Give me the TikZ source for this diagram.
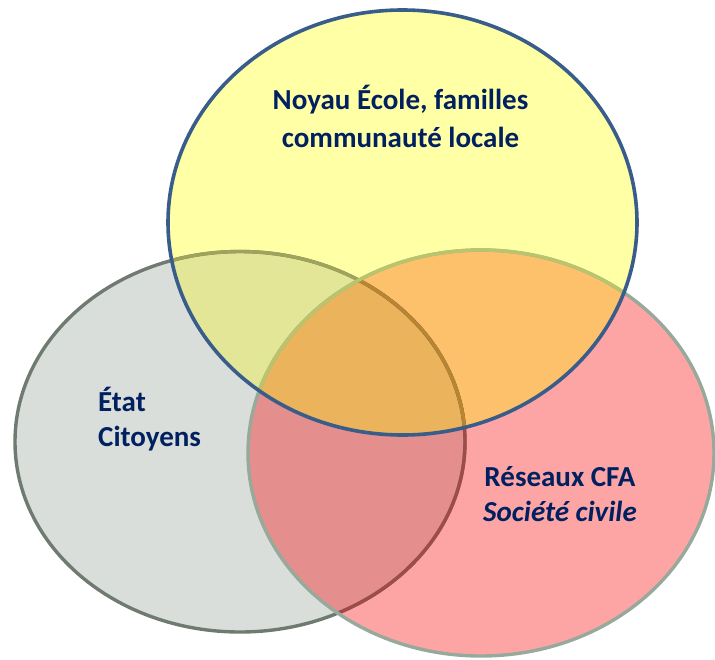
\documentclass[tikz,border=0pt]{standalone}
\usepackage{fontspec}
\setmainfont{Carlito}
\begin{document}
\begin{tikzpicture}[x=1pt,y=-1pt,
  lbl/.style={font=\fontsize{29}{33}\selectfont\bfseries, text=txtblue, inner sep=0pt},
  bord/.style={line width=3.4pt}]
\definecolor{txtblue}{HTML}{002060}
\definecolor{cG}{HTML}{D9DEDA}
\definecolor{cP}{HTML}{FDA5A5}
\definecolor{cY}{HTML}{FFFFA5}
\definecolor{cGY}{HTML}{E3E697}
\definecolor{cPY}{HTML}{FDC16B}
\definecolor{cGP}{HTML}{E48E8E}
\definecolor{cGPY}{HTML}{EBB35B}
\definecolor{bG}{HTML}{6F7A70}
\definecolor{bGP}{HTML}{A04B4B}
\definecolor{bGY}{HTML}{A0A35A}
\definecolor{bGPY}{HTML}{B8862F}
\definecolor{bP}{HTML}{97A99B}
\definecolor{bPY}{HTML}{B9C46B}
\definecolor{bY}{HTML}{385D8A}
\useasboundingbox (0,0) rectangle (715,659);
\def\pathG{(240,441.75) ellipse [x radius=225, y radius=190.25]}
\def\pathP{(481,453) ellipse [x radius=233, y radius=203]}
\def\pathY{(402.5,222.5) ellipse [x radius=234.5, y radius=212.5]}
% fills
\fill[cG] \pathG;
\fill[cP] \pathP;
\fill[cY] \pathY;
\begin{scope}\clip \pathG; \fill[cGY] \pathY; \end{scope}
\begin{scope}\clip \pathP; \fill[cPY] \pathY; \end{scope}
\begin{scope}\clip \pathG; \fill[cGP] \pathP; \end{scope}
\begin{scope}\clip \pathG; \clip \pathP; \fill[cGPY] \pathY; \end{scope}
% grey border
\draw[bord, bG] \pathG;
\begin{scope}\clip \pathY; \draw[bord, bGY] \pathG; \end{scope}
\begin{scope}\clip \pathP; \draw[bord, bGP] \pathG; \clip \pathY; \draw[bord, bGPY] \pathG; \end{scope}
% pink border
\draw[bord, bP] \pathP;
\begin{scope}\clip \pathY; \draw[bord, bPY] \pathP; \end{scope}
% yellow border
\draw[line width=3.6pt, bY] \pathY;
% labels
\node[lbl, anchor=base] (t1) at (400.5,109) {Noyau École, familles};
\node[lbl, anchor=base] (t2) at (400.5,147) {communauté locale};
\node[lbl, anchor=base west] (e1) at (98,411.7) {État};
\node[lbl, anchor=base west] (e2) at (98,446.7) {Citoyens};
\node[lbl, anchor=base] (r1) at (560,486.7) {Réseaux CFA};
\node[lbl, anchor=base, font=\fontsize{29}{33}\selectfont\bfseries\itshape] (r2) at (560,521) {Société civile};
\end{tikzpicture}
\end{document}
